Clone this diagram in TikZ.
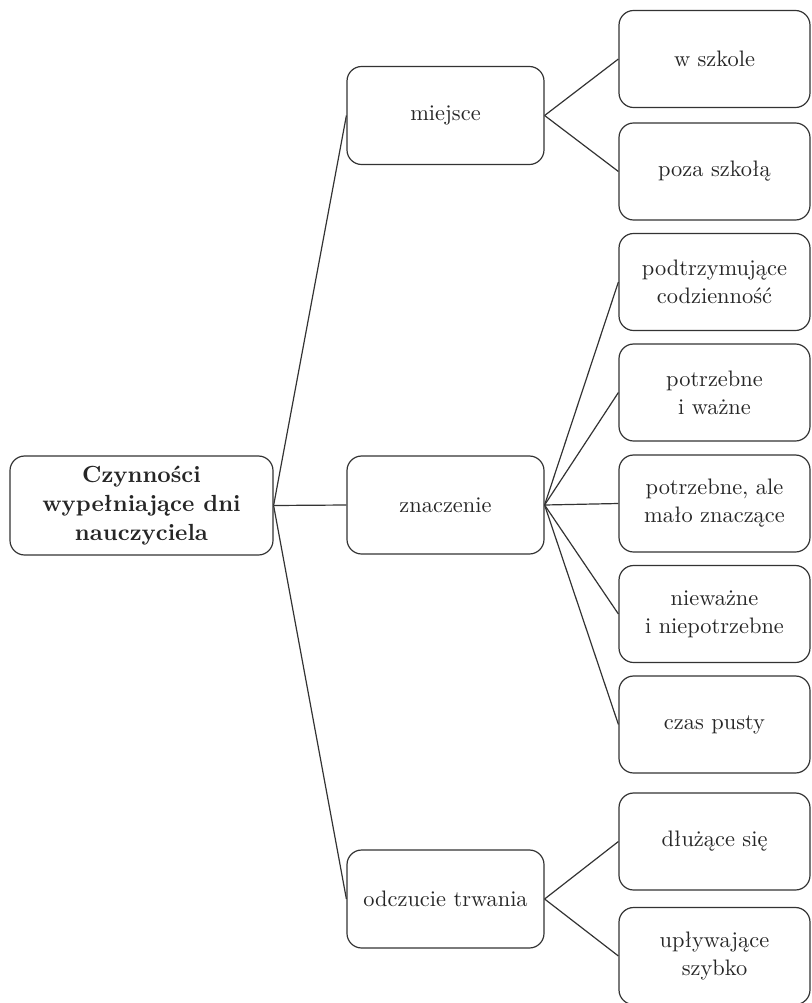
\documentclass[tikz,border=0pt]{standalone}
\usepackage{fontspec}
\setmainfont{lmroman10-regular.otf}[BoldFont=lmroman10-bold.otf]
\begin{document}
\begin{tikzpicture}[x=0.75pt,y=-0.75pt,
  ink/.style={draw=black!80, line width=0.9pt},
  box/.style={ink, rounded corners=11pt, align=center, text=black!85,
    font=\fontsize{16.8}{21}\selectfont, inner sep=0pt},
  rootbox/.style={box, minimum width=263*0.75pt, minimum height=99*0.75pt,
    font=\fontsize{17.5}{21.5}\selectfont\bfseries},
  midbox/.style={box, minimum width=197*0.75pt, minimum height=98*0.75pt},
  leafbox/.style={box, minimum width=191*0.75pt, minimum height=97*0.75pt},
  link/.style={ink}
]
\useasboundingbox (0,0) rectangle (811,1003);

% root
\node[rootbox] (root) at (141.5,505.5) {Czynności\\wypełniające dni\\nauczyciela};

% second level
\node[midbox] (miejsce) at (445.5,115.5) {miejsce};
\node[midbox] (znaczenie) at (445.5,505) {znaczenie};
\node[midbox] (trwanie) at (445.5,899) {odczucie trwania};

% leaves
\node[leafbox] (szkola) at (714.5,59) {w szkole};
\node[leafbox] (poza) at (714.5,171.5) {poza szkołą};
\node[leafbox] (podtrz) at (714.5,282) {podtrzymujące\\codzienność};
\node[leafbox] (wazne) at (714.5,392.5) {potrzebne\\i ważne};
\node[leafbox] (malo) at (714.5,503.5) {potrzebne, ale\\mało znaczące};
\node[leafbox] (niewazne) at (714.5,614) {nieważne\\i niepotrzebne};
\node[leafbox] (pusty) at (714.5,724.5) {czas pusty};
\node[leafbox] (dluzace) at (714.5,841.5) {dłużące się};
\node[leafbox] (szybko) at (714.5,956) {upływające\\szybko};

% connectors
\foreach \m in {miejsce,znaczenie,trwanie}
  \draw[link] (root.east) -- (\m.west);
\foreach \l in {szkola,poza}
  \draw[link] (miejsce.east) -- (\l.west);
\foreach \l in {podtrz,wazne,malo,niewazne,pusty}
  \draw[link] (znaczenie.east) -- (\l.west);
\foreach \l in {dluzace,szybko}
  \draw[link] (trwanie.east) -- (\l.west);
\end{tikzpicture}
\end{document}
